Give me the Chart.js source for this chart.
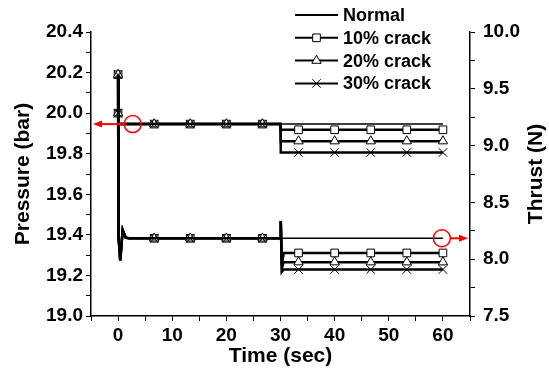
<!DOCTYPE html>
<html>
<head>
<meta charset="utf-8">
<script src="https://cdn.jsdelivr.net/npm/chart.js@4/dist/chart.umd.min.js"></script>
<style>
  html, body { margin: 0; padding: 0; background: #fff; }
  #wrap { width: 549px; height: 370px; }
</style>
</head>
<body>
<div id="wrap"><canvas id="thrustChart" width="549" height="370"></canvas></div>
<script>
// time (s) where the markers sit
const markTimes = [0, 6.67, 13.33, 20, 26.67, 33.33, 40, 46.67, 53.33, 60];

// pressure (bar), left axis
const pressTime = [0, 0.1, 6.67, 13.33, 20, 26.67, 30, 30.05, 33.33, 40, 46.67, 53.33, 60];
const pressNormal = [20.0, 19.946, 19.946, 19.946, 19.946, 19.946, 19.946, 19.946, 19.946, 19.946, 19.946, 19.946, 19.946];
const press10 = [20.0, 19.946, 19.946, 19.946, 19.946, 19.946, 19.946, 19.918, 19.918, 19.918, 19.918, 19.918, 19.918];
const press20 = [20.0, 19.946, 19.946, 19.946, 19.946, 19.946, 19.946, 19.862, 19.862, 19.862, 19.862, 19.862, 19.862];
const press30 = [20.0, 19.946, 19.946, 19.946, 19.946, 19.946, 19.946, 19.806, 19.806, 19.806, 19.806, 19.806, 19.806];

// thrust (N), right axis
const thrustTime = [0, 0.08, 0.4, 0.85, 1.4, 2, 6.67, 13.33, 20, 26.67, 30, 30.05, 30.25, 30.6, 33.33, 40, 46.67, 53.33, 60];
const thrustNormal = [9.625, 8.2, 7.99, 8.257, 8.19, 8.184, 8.184, 8.184, 8.184, 8.184, 8.184, 8.184, 8.184, 8.184, 8.184, 8.184, 8.184, 8.184, 8.184];
const thrust10 = [9.625, 8.2, 7.99, 8.257, 8.19, 8.184, 8.184, 8.184, 8.184, 8.184, 8.184, 8.337, 7.95, 8.055, 8.055, 8.055, 8.055, 8.055, 8.055];
const thrust20 = [9.625, 8.2, 7.99, 8.257, 8.19, 8.184, 8.184, 8.184, 8.184, 8.184, 8.184, 8.337, 7.92, 7.974, 7.974, 7.974, 7.974, 7.974, 7.974];
const thrust30 = [9.625, 8.2, 7.99, 8.257, 8.19, 8.184, 8.184, 8.184, 8.184, 8.184, 8.184, 8.337, 7.89, 7.909, 7.909, 7.909, 7.909, 7.909, 7.909];

const seriesNames = ['Normal', '10% crack', '20% crack', '30% crack'];
const seriesStyles = [false, 'rect', 'triangle', 'crossRot'];
const seriesRadius = [0, 5.4, 5.4, 6];

// red call-outs: [time, value, axis, direction]
const callouts = [[2.7, 19.946, 'yP', -1], [59.8, 8.184, 'yT', 1]];

const FONT = '"Liberation Sans", Arial, sans-serif';

function zip(xs, ys) {
    return xs.map((x, i) => ({x: x, y: ys[i]}));
}
function isMark(t) {
    return markTimes.some(m => Math.abs(m - t) < 1e-6);
}

function makeSet(name, times, values, axis, k) {
    return {
        label: name,
        data: zip(times, values),
        yAxisID: axis,
        order: k === 0 ? 0 : 4 - k,
        borderColor: '#000',
        borderWidth: k === 0 ? 1.5 : 2.5,
        backgroundColor: '#fff',
        pointStyle: seriesStyles[k],
        pointBorderColor: '#000',
        pointBackgroundColor: '#fff',
        pointBorderWidth: 1,
        pointRadius: c => (k > 0 && c.raw && isMark(c.raw.x)) ? seriesRadius[k] : 0,
        pointHoverRadius: 0,
        tension: 0,
        fill: false
    };
}

const datasets = [];
[pressNormal, press10, press20, press30].forEach((v, k) => datasets.push(makeSet(seriesNames[k], pressTime, v, 'yP', k)));
[thrustNormal, thrust10, thrust20, thrust30].forEach((v, k) => datasets.push(makeSet(seriesNames[k], thrustTime, v, 'yT', k)));

const calloutPlugin = {
    id: 'callouts',
    afterDatasetsDraw(chart) {
        const ctx = chart.ctx;
        const xs = chart.scales.x;
        ctx.save();
        ctx.strokeStyle = '#f00';
        ctx.fillStyle = '#f00';
        callouts.forEach(c => {
            const cx = xs.getPixelForValue(c[0]);
            const cy = chart.scales[c[2]].getPixelForValue(c[1]);
            const r = 8.5;
            ctx.lineWidth = 1.5;
            ctx.beginPath();
            ctx.arc(cx, cy, r, 0, Math.PI * 2);
            ctx.stroke();
            const start = cx + c[3] * r;
            const tip = c[3] < 0 ? chart.chartArea.left + 2 : chart.chartArea.right - 2;
            ctx.lineWidth = 2;
            ctx.beginPath();
            ctx.moveTo(start, cy);
            ctx.lineTo(tip - c[3] * 6, cy);
            ctx.stroke();
            ctx.beginPath();
            ctx.moveTo(tip, cy);
            ctx.lineTo(tip - c[3] * 9, cy - 3.5);
            ctx.lineTo(tip - c[3] * 9, cy + 3.5);
            ctx.closePath();
            ctx.fill();
        });
        ctx.restore();
    }
};

const legendPlugin = {
    id: 'sideLegend',
    afterDraw(chart) {
        const ctx = chart.ctx;
        ctx.save();
        seriesNames.forEach((name, k) => {
            const y = 15 + k * 22.8;
            ctx.strokeStyle = '#000';
            ctx.lineWidth = 2;
            ctx.beginPath();
            ctx.moveTo(295, y);
            ctx.lineTo(338, y);
            ctx.stroke();
            if (seriesStyles[k]) {
                ctx.fillStyle = '#fff';
                ctx.lineWidth = 1;
                Chart.helpers.drawPoint(ctx, {pointStyle: seriesStyles[k], radius: seriesRadius[k], borderWidth: 1, rotation: 0}, 316.5, y);
            }
            ctx.fillStyle = '#000';
            ctx.font = 'bold 18px ' + FONT;
            ctx.textBaseline = 'middle';
            ctx.fillText(name, 343, y + 1);
        });
        // right axis title, read bottom to top
        const area = chart.chartArea;
        ctx.translate(536.5, (area.top + area.bottom) / 2);
        ctx.rotate(-Math.PI / 2);
        ctx.font = 'bold 21px ' + FONT;
        ctx.textAlign = 'center';
        ctx.textBaseline = 'middle';
        ctx.fillText('Thrust (N)', 0, 0);
        ctx.restore();
    }
};

function axisTitle(text, pad) {
    return {display: true, text: text, color: '#000', padding: pad,
        font: {family: FONT, size: 21, weight: 'bold', lineHeight: 1.2}};
}
const tickFont = {family: FONT, size: 19, weight: 'bold'};
const gridOpts = {drawOnChartArea: false, drawTicks: true, tickLength: 5, tickWidth: 1, tickColor: '#000', color: '#000'};
const borderOpts = {display: true, color: '#000', width: 1.5};

new Chart(document.getElementById('thrustChart').getContext('2d'), {
    type: 'line',
    data: {datasets: datasets},
    options: {
        responsive: false,
        animation: false,
        layout: {padding: {top: 32, left: 0, right: 0, bottom: 0}},
        plugins: {legend: {display: false}, tooltip: {enabled: false}},
        scales: {
            x: {
                type: 'linear', min: -5, max: 65,
                grid: gridOpts, border: borderOpts,
                ticks: {stepSize: 5, autoSkip: false, maxRotation: 0, color: '#000', font: tickFont, padding: 3,
                    callback: v => (v % 10 === 0 && v >= 0 && v <= 60) ? String(v) : ''},
                title: axisTitle('Time (sec)', {top: 0, bottom: 1}),
                afterFit: s => { s.height = 54; }
            },
            yP: {
                type: 'linear', position: 'left', min: 19.0, max: 20.4,
                grid: gridOpts, border: borderOpts,
                ticks: {stepSize: 0.1, autoSkip: false, maxTicksLimit: 100, color: '#000', font: tickFont, padding: 3,
                    callback: v => Math.round(v * 10) % 2 === 0 ? v.toFixed(1) : ''},
                title: axisTitle('Pressure (bar)', {top: 11, bottom: 0}),
                afterFit: s => { s.width = 91; }
            },
            yT: {
                type: 'linear', position: 'right', min: 7.5, max: 10.0,
                grid: gridOpts, border: borderOpts,
                ticks: {stepSize: 0.25, autoSkip: false, maxTicksLimit: 100, color: '#000', font: tickFont, padding: 8,
                    callback: v => Math.round(v * 4) % 2 === 0 ? v.toFixed(1) : ''},
                title: {display: false},
                afterFit: s => { s.width = 79; }
            }
        }
    },
    plugins: [calloutPlugin, legendPlugin]
});
</script>
</body>
</html>
